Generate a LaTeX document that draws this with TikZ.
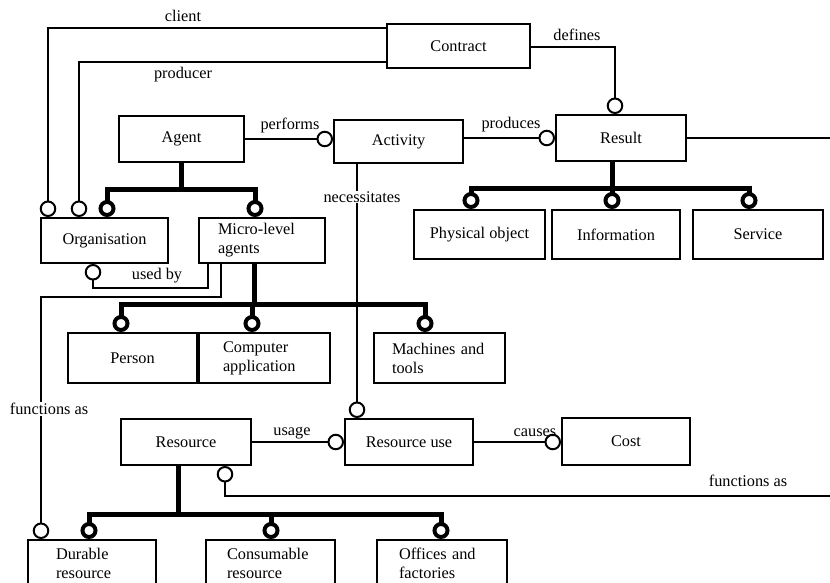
\documentclass[tikz,border=0pt]{standalone}
\usepackage{fontspec}
\setmainfont{Liberation Serif}
\usetikzlibrary{arrows.meta,calc}
\begin{document}
\begin{tikzpicture}[x=1pt,y=-1pt,
  box/.style={draw, line width=2pt, inner sep=0pt, font=\fontsize{16.3}{19}\selectfont, align=center},
  lbox/.style={box, align=left},
  conn/.style={line width=2pt, -{Circle[open,length=16.5pt,width=16.5pt,fill=white]}},
  plainline/.style={line width=2pt},
  gen/.style={line width=5pt},
  gentip/.style={line width=5pt, -{Circle[open,length=17pt,width=17pt,line width=4pt,fill=white]}},
  lbl/.style={font=\fontsize{16.3}{19}\selectfont, inner sep=1pt}
]
\useasboundingbox (0,0) rectangle (830,582);
\clip (0,0) rectangle (830,582);

% boxes
\node[box, minimum width=143pt, minimum height=44pt] (contract) at (458.5,46) {Contract};
\node[box, minimum width=125pt, minimum height=46pt] (agent) at (181.5,139) {Agent};
\node[box, minimum width=129pt, minimum height=43pt] (activity) at (398.5,141.5) {Activity};
\node[box, minimum width=130pt, minimum height=46pt] (result) at (621,138) {Result};
\node[box, minimum width=127pt, minimum height=45pt] (org) at (104.5,240.5) {Organisation};
\node[lbox, minimum width=126pt, minimum height=45pt, text width=88pt] (micro) at (262,240.5) {Micro-level\\agents};
\node[box, minimum width=131pt, minimum height=49pt] (phys) at (479.5,234.5) {Physical object};
\node[box, minimum width=128pt, minimum height=49pt] (info) at (616,234.5) {Information};
\node[box, minimum width=130pt, minimum height=49pt] (service) at (758,234.5) {Service};
\node[box, minimum width=129pt, minimum height=50pt] (person) at (132.5,358) {Person};
\node[lbox, minimum width=131pt, minimum height=50pt, text width=83pt] (comp) at (264.5,358) {Computer\\application};
\node[lbox, minimum width=131pt, minimum height=50pt, text width=95pt] (mach) at (439.5,358) {Machines and\\tools};
\node[box, minimum width=130pt, minimum height=46pt] (resource) at (186,442) {Resource};
\node[box, minimum width=128pt, minimum height=46pt] (resuse) at (409,442) {Resource use};
\node[box, minimum width=128pt, minimum height=47pt] (cost) at (626,441.5) {Cost};
\node[lbox, minimum width=128pt, minimum height=46pt, text width=72pt] (durable) at (92,563) {Durable\\resource};
\node[lbox, minimum width=129pt, minimum height=46pt, text width=87pt] (consum) at (270.5,563) {Consumable\\resource};
\node[lbox, minimum width=130pt, minimum height=46pt, text width=86pt] (offices) at (442,563) {Offices and\\factories};

% free ends
\coordinate (resultout) at (830,138);
\coordinate (funcout) at (830,496);

% contract relations
\draw[conn] ($(contract.north west)+(0,5)$) -| ($(org.north west)+(8,0)$);
\node[lbl] (lclient) at (183,16) {client};
\draw[conn] ($(contract.south west)+(0,-7)$) -| ($(org.north west)+(39,0)$);
\node[lbl] (lproducer) at (183,75) {producer};
\draw[conn] ($(contract.east)+(0,1)$) -| ($(result.north)+(-6,0)$);
\node[lbl] (ldefines) at (577,35) {defines};

% performs / produces
\draw[conn] (agent.east) -- (activity.west |- agent.east);
\node[lbl] (lperforms) at (290,125) {performs};
\draw[conn] (activity.east |- result.west) -- (result.west);
\node[lbl] (lproduces) at (511,125) {produces};
\draw[plainline] (result.east) -- (resultout);

% agent generalisation
\coordinate (aj) at ($(agent.south)+(0,26)$);
\draw[gen] (agent.south) -- (aj);
\draw[gentip] (aj) -| ($(org.north west)+(67,0)$);
\draw[gentip] (aj) -| ($(micro.north west)+(57,0)$);

% result generalisation
\coordinate (rs) at ($(result.south)+(-9,0)$);
\coordinate (rj) at ($(result.south)+(-9,26)$);
\draw[gen] (rs) -- (rj);
\draw[gentip] (rj) -| ($(phys.north west)+(58,0)$);
\draw[gentip] (rj) -- (rj |- info.north);
\draw[gentip] (rj) -| ($(service.north west)+(57,0)$);

% necessitates
\coordinate (na) at ($(activity.south west)+(24,0)$);
\draw[conn] (na) -- (na |- resuse.north);
\node[lbl, fill=white] (lnecess) at (362,197) {necessitates};

% used by
\draw[conn] ($(micro.south west)+(10,0)$) -- ($(micro.south west)+(10,24)$) -| ($(org.south west)+(53,0)$);
\node[lbl] (lusedby) at (157,276) {used by};

% functions as (left)
\draw[conn] ($(micro.south west)+(23,0)$) -- ($(micro.south west)+(23,33)$) -| ($(durable.north west)+(14,0)$);
\node[lbl, fill=white] (lfunc1) at (49,409) {functions as};

% micro generalisation
\coordinate (ms) at ($(micro.south west)+(56,0)$);
\coordinate (mj) at ($(micro.south west)+(56,40)$);
\draw[gen] (ms) -- (mj);
\draw[gentip] (mj) -| ($(person.north west)+(54,0)$);
\draw[gentip] (mj) -| ($(comp.north west)+(54,0)$);
\draw[gentip] (mj) -| ($(mach.north west)+(52,0)$);

% usage / causes
\draw[conn] (resource.east) -- (resuse.west);
\node[lbl] (lusage) at (292,433) {usage};
\draw[conn] (resuse.east) -- (resuse.east -| cost.west);
\node[lbl] (lcauses) at (535,433) {causes};

% functions as (right)
\draw[conn] (funcout) -| ($(resource.south west)+(105,0)$);
\node[lbl] (lfunc2) at (748,481) {functions as};

% resource generalisation
\coordinate (ss) at ($(resource.south west)+(58,0)$);
\coordinate (sj) at ($(resource.south west)+(58,48)$);
\draw[gen] (ss) -- (sj);
\draw[gentip] (sj) -| ($(durable.north west)+(62,0)$);
\draw[gentip] (sj) -| ($(consum.north west)+(66,0)$);
\draw[gentip] (sj) -| ($(offices.north west)+(65,0)$);
\end{tikzpicture}
\end{document}
